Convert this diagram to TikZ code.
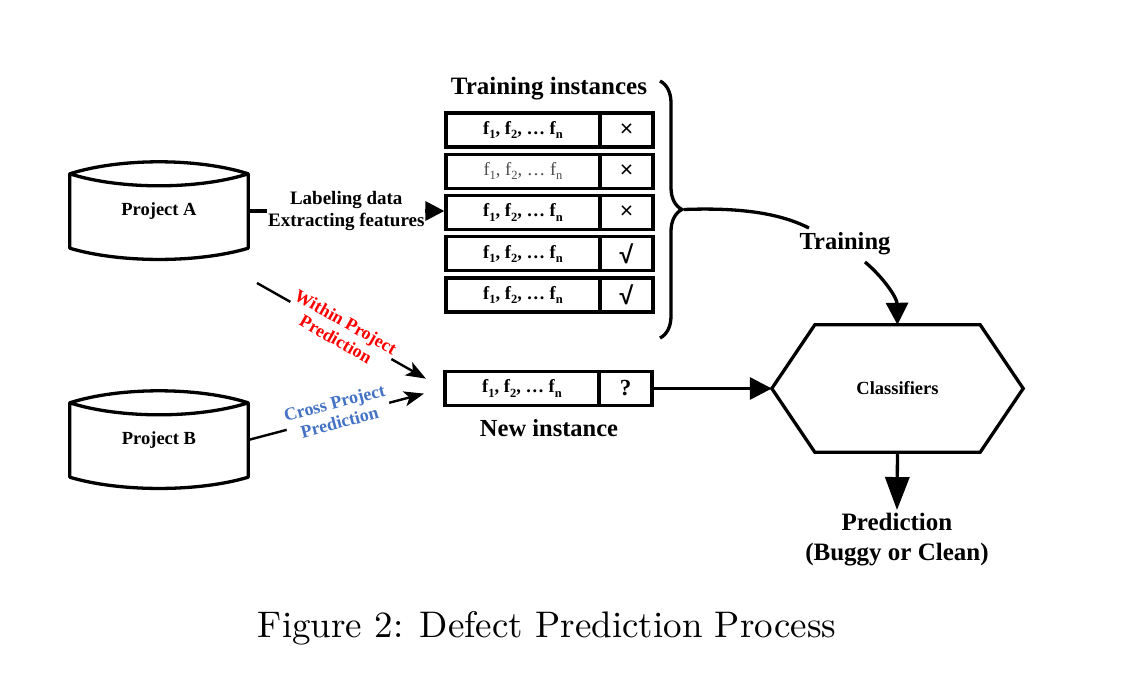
\documentclass[tikz,border=0pt]{standalone}
\usepackage{fontspec}
\setmainfont{Liberation Serif}
\newfontfamily\capfont{lmroman10-regular}[Extension=.otf]
\newfontfamily\symfont{Liberation Sans}
\usetikzlibrary{arrows.meta,decorations.pathreplacing}
\newcommand\fsb[1]{\raisebox{-0.22em}{\fontsize{12.5}{12.5}\selectfont #1}}
\newcommand\feat{f\fsb{1}, f\fsb{2}, … f\fsb{n}}
\tikzset{
  ln/.style={line width=3.3pt},
  fbox/.style={draw, line width=3.3pt, minimum width=154pt, minimum height=34pt, inner sep=0pt, font=\fontsize{18.5}{18.5}\selectfont\bfseries},
  lbox/.style={draw, line width=3.3pt, minimum width=53pt, minimum height=34pt, inner sep=0pt},
  lbl/.style={font=\fontsize{19}{22}\selectfont\bfseries, align=center},
  big/.style={font=\fontsize{24.5}{30}\selectfont\bfseries, align=center},
  cyl/.style={minimum width=178pt, minimum height=74pt, inner sep=0pt, font=\fontsize{18.5}{18.5}\selectfont\bfseries},
  stl/.style={-{Stealth[length=20pt,width=15pt,inset=5pt]}},
  xs/.style={font=\symfont\fontsize{23}{23}\selectfont},
  ck/.style={font=\symfont\bfseries\fontsize{25}{25}\selectfont},
}
\begin{document}
\begin{tikzpicture}[x=1pt,y=-1pt]
\fill[white] (0,0) rectangle (1146,688);
\useasboundingbox (0,0) rectangle (1146,688);

% Project A cylinder
\node[cyl] (pa) at (159,211) {Project A};
\draw[ln, line join=round] (pa.north west) .. controls +(50,-16) and +(-50,-16) .. (pa.north east)
  .. controls +(-50,16) and +(50,16) .. (pa.north west) -- (pa.south west)
  .. controls +(50,15) and +(-50,15) .. (pa.south east) -- (pa.north east);
% Project B cylinder
\node[cyl] (pb) at (159,440) {Project B};
\draw[ln, line join=round] (pb.north west) .. controls +(50,-16) and +(-50,-16) .. (pb.north east)
  .. controls +(-50,16) and +(50,16) .. (pb.north west) -- (pb.south west)
  .. controls +(50,15) and +(-50,15) .. (pb.south east) -- (pb.north east);

% Training instances
\node[big, font=\fontsize{25}{28}\selectfont\bfseries] (ti) at (549,89) {Training instances};
\node[fbox] (r1f) at (523,130) {\feat};
\node[lbox, xs] (r1l) at (626.5,130) {×};
\node[fbox, font=\fontsize{18.5}{18.5}\selectfont, text=black!70] (r2f) at (523,171.25) {\feat};
\node[lbox, xs] (r2l) at (626.5,171.25) {×};
\node[fbox] (r3f) at (523,212.5) {\feat};
\node[lbox, xs] (r3l) at (626.5,212.5) {×};
\node[fbox] (r4f) at (523,253.75) {\feat};
\node[lbox, ck] (r4l) at (626.5,253.75) {√};
\node[fbox] (r5f) at (523,295) {\feat};
\node[lbox, ck] (r5l) at (626.5,295) {√};

% brace
\draw[ln, decorate, decoration={brace, amplitude=22pt}] (660,81) -- (660,338);
\coordinate (bt) at (684,209.5);

% new instance
\node[fbox] (nif) at (522,388.5) {\feat};
\node[lbox, font=\fontsize{23}{23}\selectfont\bfseries] (nil) at (625.5,388.5) {?};
\node[big] (nit) at (549,428) {New instance};

% classifiers hexagon
\node[minimum width=251pt, minimum height=127pt, inner sep=0pt, font=\fontsize{18.5}{18.5}\selectfont\bfseries] (cls) at (897.5,388.5) {Classifiers};
\draw[ln, line join=miter] (cls.west) -- ([xshift=43pt]cls.north west) -- ([xshift=-43pt]cls.north east)
  -- (cls.east) -- ([xshift=-43pt]cls.south east) -- ([xshift=43pt]cls.south west) -- cycle;

% training label
\node[big] (tr) at (845,244) {Training};
\coordinate (te) at (809,228);
\coordinate (ts) at (865,262);
\draw[ln] (bt) .. controls (750,207) and (785,216) .. (te);
\draw[ln, -{Triangle[length=22pt,width=22pt]}] (ts) .. controls (884,278) and (897,298) .. (cls.north);

% prediction
\node[big, font=\fontsize{25}{30}\selectfont\bfseries] (pr) at (897,540) {Prediction\\(Buggy or Clean)};
\draw[ln, -{Triangle[length=33pt,width=24pt]}] (cls.south) -- (pr.north);

% connectors
\draw[ln, -{Triangle[length=19pt,width=19pt]}] (pa.east) -- (pa.east -| r3f.west)
  node[midway, fill=white, inner sep=1pt, lbl, pos=0.5] {Labeling data\\Extracting features};
\draw[ln, -{Triangle[length=22pt,width=22pt]}] (nil.east) -- (cls.west);

\coordinate (ws) at (257,283);
\draw[line width=2.4pt, stl, shorten >=20pt] (ws) -- (nif.west)
  node[pos=0.45, sloped, fill=white, inner sep=1pt, align=center, text=red, font=\fontsize{18}{20}\selectfont\bfseries] {Within Project\\Prediction};
\draw[line width=2.4pt, stl, shorten >=20pt] (pb.east) -- (nif.west)
  node[pos=0.46, sloped, yshift=4pt, fill=white, inner sep=1pt, align=center, text={rgb,255:red,68;green,114;blue,196}, font=\fontsize{18}{20}\selectfont\bfseries] {Cross Project\\Prediction};

% caption
\node[font=\capfont\fontsize{37}{37}\selectfont] (cap) at (547,628) {Figure 2: Defect Prediction Process};
\end{tikzpicture}
\end{document}
